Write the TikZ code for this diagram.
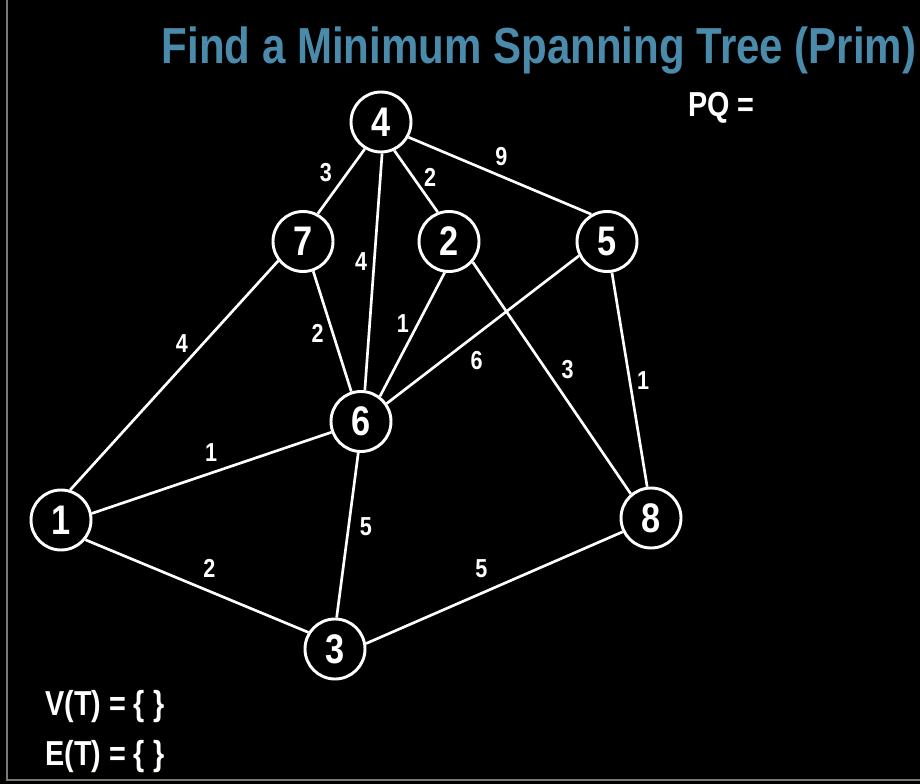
\documentclass[tikz,border=0pt]{standalone}
\usepackage{fontspec}
\setmainfont{Liberation Sans}[FakeStretch=0.83]
\usepackage{tikz}

\definecolor{titleblue}{HTML}{4A8AAA}
\definecolor{framegray}{HTML}{7A7A72}

\tikzset{
  vert/.style={circle, draw=white, fill=black, line width=2.2pt, minimum size=45pt,
               inner sep=0pt, text=white, font=\bfseries\fontsize{31}{31}\selectfont},
  edge/.style={draw=white, line width=2pt},
  wlab/.style={text=white, inner sep=0pt, font=\bfseries\fontsize{19.5}{19.5}\selectfont},
  settext/.style={text=white, inner sep=0pt, anchor=base west, font=\bfseries\fontsize{26}{26}\selectfont}
}

\begin{document}
\begin{tikzpicture}[x=0.75pt, y=-0.75pt]

  % ---- canvas: 920 x 784 px, y grows downwards ----
  \useasboundingbox (0,0) rectangle (920,784);
  \fill[black] (0,0) rectangle (920,784);
  \draw[framegray, line width=1.5pt] (7,-10) -- (7,780) -- (930,780);

  % ---- title ----
  \node[text=titleblue, inner sep=0pt, anchor=base, font=\bfseries\fontsize{38}{38}\selectfont]
    (title) at (539,64) {Find a Minimum Spanning Tree (Prim)};

  % ---- vertices: {name / x / y} ----
  \foreach \v/\x/\y in {4/381/122, 7/303/241.5, 2/449/241.5, 5/607/241.5,
                        6/361/421.5, 1/61/520, 8/651/518, 3/335/649} {
    \node[vert] (n\v) at (\x,\y) {\v};
  }

  % ---- edges: {from / angle / to / angle / weight / pos / label shift} ----
  \foreach \a/\aa/\b/\bb/\w/\p/\dx/\dy in {
      4/239/7/62/3/0.53/-14/-11,
      4/272/6/83/4/0.46/-13/-1,
      4/295/2/111/2/0.57/11/-8,
      4/331/5/120/9/0.47/7/-17,
      7/218/1/73/4/0.41/-11/-11,
      7/289/6/108/2/0.48/-14/4,
      2/262/6/53/1/0.46/-12/-6,
      2/319/8/130/3/0.505/15/-10,
      5/207/6/35/6/0.595/12/17,
      5/279/8/97/1/0.513/13/-2,
      1/12/6/200/1/0.523/-6/-18,
      6/265/3/87/5/0.438/17/2,
      1/321/3/148/2/0.52/8/-19,
      3/10/8/206/5/0.484/-9/-21} {
    \draw[edge] (n\a.\aa) -- (n\b.\bb)
      node[wlab, pos=\p, shift={(\dx,\dy)}] (w\a\b) {\w};
  }

  % ---- priority queue and tree sets ----
  \node[settext] (pq) at (688,117) {PQ =};
  \node[settext] (vt) at (45,715) {V(T) = \{ \}};
  \node[settext] (et) at (45,765) {E(T) = \{ \}};

\end{tikzpicture}
\end{document}
